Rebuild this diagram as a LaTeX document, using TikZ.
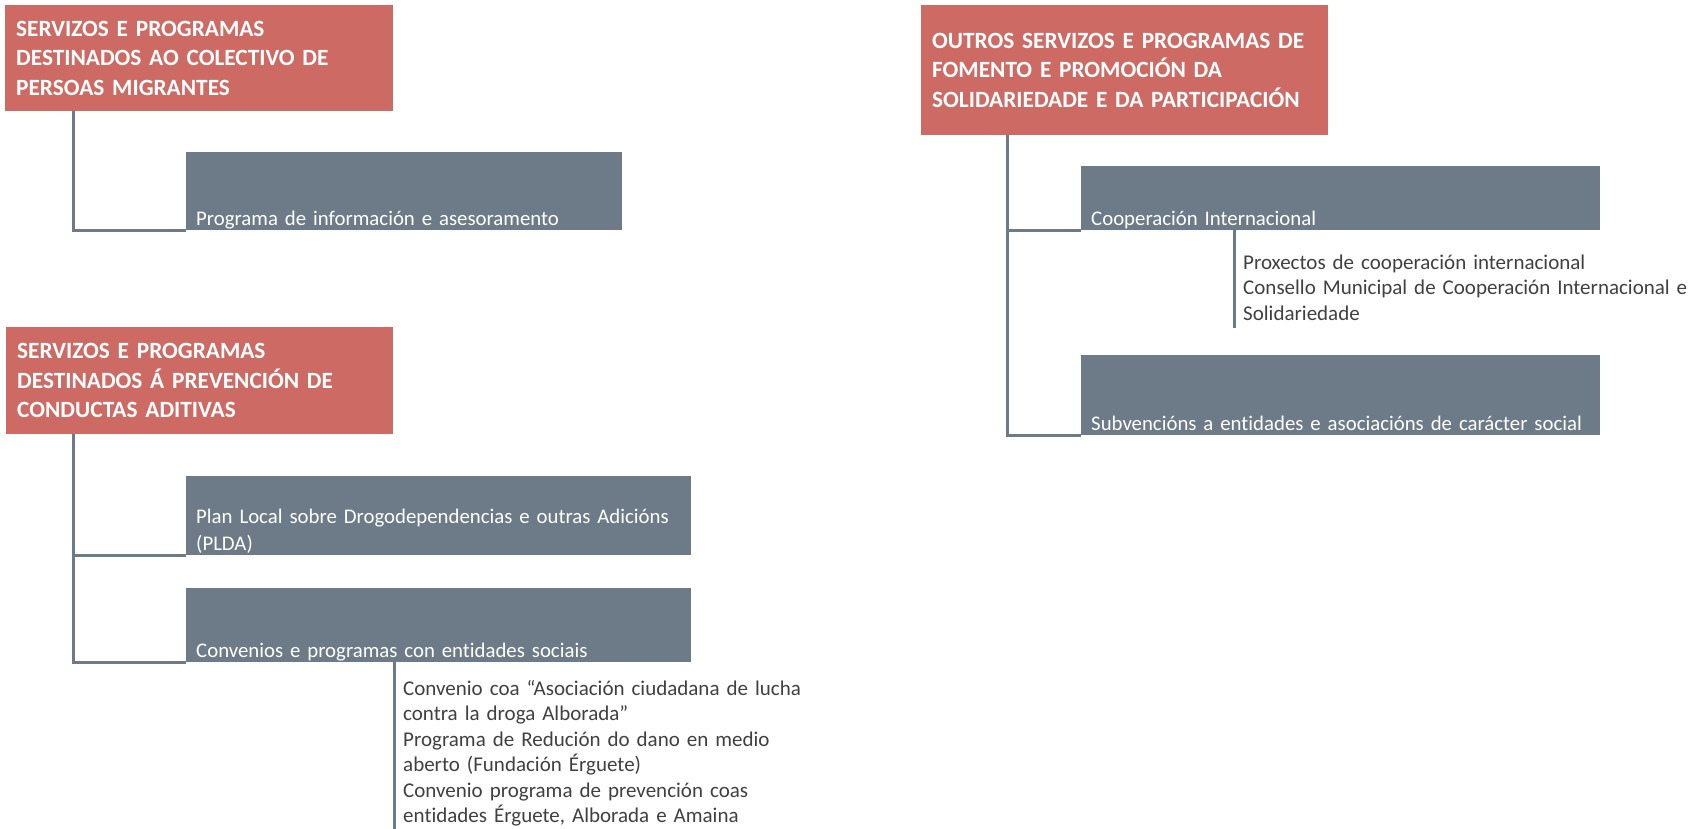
\documentclass[tikz,border=0pt]{standalone}
\usepackage{fontspec}
\setmainfont{Carlito}[Ligatures=NoCommon]
\usetikzlibrary{positioning}
\definecolor{headred}{HTML}{CD6A64}
\definecolor{itemgray}{HTML}{6D7B89}
\definecolor{subgray}{HTML}{404040}

\begin{document}
\begin{tikzpicture}[x=1pt,y=-1pt,
    head/.style={fill=headred,text=white,anchor=north west,inner xsep=11pt,inner ysep=0pt,
      font=\bfseries\fontsize{23.3}{29.3}\selectfont,align=left},
    item/.style={fill=itemgray,anchor=north west,inner sep=0pt},
    itemtext/.style={text=white,anchor=base west,inner sep=0pt,
      font=\fontsize{20.8}{27}\selectfont,align=left},
    subtext/.style={text=subgray,anchor=base west,inner sep=0pt,
      font=\fontsize{21}{25.5}\selectfont,align=left},
    link/.style={draw=itemgray,line width=3pt}]
  \useasboundingbox (0,0) rectangle (1704,828);

  % left column, first group
  \node[head,text width=366pt,minimum height=106pt] (migr) at (5,5)
    {SERVIZOS E PROGRAMAS\\DESTINADOS AO COLECTIVO DE\\PERSOAS MIGRANTES};
  \node[item,minimum width=436pt,minimum height=78pt] (info) at (186,152) {};
  \node[itemtext,text width=420pt] (infot) at ([shift={(10pt,5pt)}]info.south west)
    {Programa de información e asesoramento};
  \draw[link] ([xshift=68pt]migr.south west) |- (info.south west);

  % left column, second group
  \node[head,text width=365pt,minimum height=107pt] (adit) at (6,327)
    {SERVIZOS E PROGRAMAS\\DESTINADOS Á PREVENCIÓN DE\\CONDUCTAS ADITIVAS};
  \node[item,minimum width=505pt,minimum height=79pt] (plda) at (186,476) {};
  \node[itemtext,text width=495pt] (pldat) at ([shift={(10pt,32pt)}]plda.south west)
    {Plan Local sobre Drogodependencias e outras Adicións\\(PLDA)};
  \node[item,minimum width=505pt,minimum height=74pt] (conv) at (186,588) {};
  \node[itemtext,text width=490pt] (convt) at ([shift={(10pt,5pt)}]conv.south west)
    {Convenios e programas con entidades sociais};
  \node[subtext,text width=420pt] (convsub) at (403,695)
    {Convenio coa “Asociación ciudadana de lucha\\contra la droga Alborada”\\Programa de Redución do dano en medio\\aberto (Fundación Érguete)\\Convenio programa de prevención coas\\entidades Érguete, Alborada e Amaina};
  \draw[link] ([xshift=67pt]adit.south west) |- (plda.south west);
  \draw[link] ([xshift=67pt]adit.south west) |- (conv.south west);
  \draw[link] ([xshift=208pt]conv.south west) -- ([xshift=208pt,yshift=-8pt]conv.south west |- convsub.south);

  % right column
  \node[head,text width=385pt,minimum height=130pt] (outros) at (921,5)
    {OUTROS SERVIZOS E PROGRAMAS DE\\FOMENTO E PROMOCIÓN DA\\SOLIDARIEDADE E DA PARTICIPACIÓN};
  \node[item,minimum width=519pt,minimum height=64pt] (coop) at (1081,166) {};
  \node[itemtext,text width=500pt] (coopt) at ([shift={(10pt,5pt)}]coop.south west)
    {Cooperación Internacional};
  \node[subtext,text width=470pt] (coopsub) at (1243,269)
    {Proxectos de cooperación internacional\\Consello Municipal de Cooperación Internacional e\\Solidariedade};
  \node[item,minimum width=519pt,minimum height=80pt] (subv) at (1081,355) {};
  \node[itemtext,text width=500pt] (subvt) at ([shift={(10pt,5pt)}]subv.south west)
    {Subvencións a entidades e asociacións de carácter social};
  \draw[link] ([xshift=86pt]outros.south west) |- (coop.south west);
  \draw[link] ([xshift=86pt]outros.south west) |- (subv.south west);
  \draw[link] ([xshift=153.5pt]coop.south west) -- ([xshift=153.5pt,yshift=-8pt]coop.south west |- coopsub.south);
\end{tikzpicture}
\end{document}
